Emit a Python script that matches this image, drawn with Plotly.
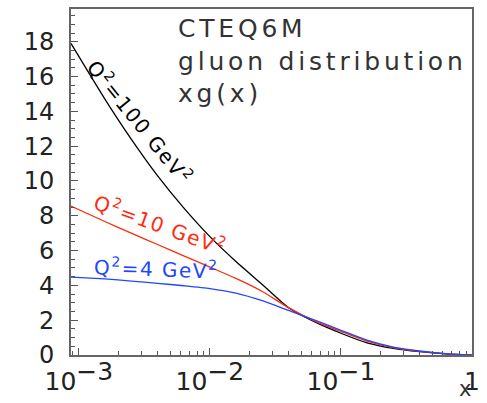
import plotly.graph_objects as go

# x values (Bjorken x) sampled along the curves
x_vals = [0.00087, 0.00158, 0.00251, 0.00398, 0.00631, 0.01, 0.0158, 0.0251,
          0.0398, 0.0631, 0.1, 0.158, 0.251, 0.398, 0.631, 1.0]
# x*g(x) for three Q^2 values
g_q100 = [17.9, 14.7, 12.4, 10.3, 8.45, 6.8, 5.37, 4.05, 2.72, 1.9, 1.25, 0.7, 0.38, 0.19, 0.06, 0.0]
g_q10 = [8.56, 7.67, 7.0, 6.35, 5.7, 5.05, 4.4, 3.65, 2.72, 1.95, 1.35, 0.8, 0.42, 0.21, 0.07, 0.0]
g_q4 = [4.48, 4.37, 4.25, 4.12, 3.98, 3.82, 3.56, 3.12, 2.56, 2.0, 1.42, 0.85, 0.45, 0.23, 0.08, 0.0]

x_major = [0.001, 0.01, 0.1, 1.0]
x_major_text = ["10<sup><span style='font-size:25px'>−3</span></sup>",
                "10<sup><span style='font-size:25px'>−2</span></sup>",
                "10<sup><span style='font-size:25px'>−1</span></sup>",
                "1"]
y_ticks = [0, 2, 4, 6, 8, 10, 12, 14, 16, 18]

x_minor = [m * 10.0 ** e for e in (-4, -3, -2, -1) for m in range(2, 10)]
x_minor = [v for v in x_minor if 0.00087 <= v < 1.0]

BLACK = "#000000"
RED = "#ff2a10"
BLUE = "#2246ff"
FONT = "DejaVu Sans"

fig = go.Figure()
for ys, col in ((g_q100, BLACK), (g_q10, RED), (g_q4, BLUE)):
    fig.add_trace(go.Scatter(x=x_vals, y=ys, mode="lines",
                             line=dict(color=col, width=1.3, shape="spline", smoothing=0.6),
                             hoverinfo="skip"))

lab_font = dict(family=FONT, size=20)
ls = "<span style='letter-spacing:1.5px'>"
fig.add_annotation(x=-2.53, y=13.4, xref="x", yref="y",
                   text=ls + "Q<sup>2</sup>=100 GeV<sup>2</sup></span>", showarrow=False,
                   textangle=51, font=dict(color=BLACK, **lab_font),
                   xanchor="center", yanchor="middle")
fig.add_annotation(x=-2.379, y=7.52, xref="x", yref="y",
                   text=ls + "Q<sup>2</sup>=10 GeV<sup>2</sup></span>", showarrow=False,
                   textangle=20, font=dict(color=RED, **lab_font),
                   xanchor="center", yanchor="middle")
fig.add_annotation(x=-2.409, y=5.01, xref="x", yref="y",
                   text=ls + "Q<sup>2</sup>=4 GeV<sup>2</sup></span>", showarrow=False,
                   textangle=2, font=dict(color=BLUE, **lab_font),
                   xanchor="center", yanchor="middle")

title_ls = "<span style='letter-spacing:3.8px'>"
fig.add_annotation(x=0.262, y=0.99, xref="paper", yref="paper",
                   text=title_ls + "CTEQ6M</span><br>" + title_ls + "gluon distribution</span><br>"
                   + title_ls + "xg(x)</span>",
                   showarrow=False, align="left", xanchor="left", yanchor="top",
                   font=dict(family=FONT, size=25, color="#333333"))

fig.add_annotation(x=0.983, y=-0.098, xref="paper", yref="paper", text="x",
                   showarrow=False, xanchor="center", yanchor="middle",
                   font=dict(family=FONT, size=21, color="#333333"))

fig.update_layout(
    width=487, height=403,
    margin=dict(l=71, r=7, t=8, b=46),
    paper_bgcolor="white", plot_bgcolor="white",
    showlegend=False,
    xaxis=dict(type="log", range=[-3.06, 0], tickmode="array", tickvals=x_major,
               ticktext=x_major_text, ticks="inside", ticklen=7, tickwidth=1,
               tickcolor="#555555", showgrid=False, zeroline=False,
               showline=True, linecolor="#666666", linewidth=2, mirror=True,
               ticklabelstandoff=3,
               tickfont=dict(family=FONT, size=25, color="#222222"),
               minor=dict(tickmode="array", tickvals=x_minor, ticks="inside",
                          ticklen=4, tickwidth=1, tickcolor="#555555", showgrid=False)),
    yaxis=dict(range=[0, 19.88], tickmode="array", tickvals=y_ticks,
               ticks="inside", ticklen=7, tickwidth=1, tickcolor="#555555",
               showgrid=False, zeroline=False, showline=True, linecolor="#666666",
               linewidth=2, mirror=True, ticklabelstandoff=10,
               tickfont=dict(family=FONT, size=24, color="#222222"),
               minor=dict(dtick=0.5, ticks="inside", ticklen=4, tickwidth=1,
                          tickcolor="#555555", showgrid=False)),
)

fig.write_html("out.html")
